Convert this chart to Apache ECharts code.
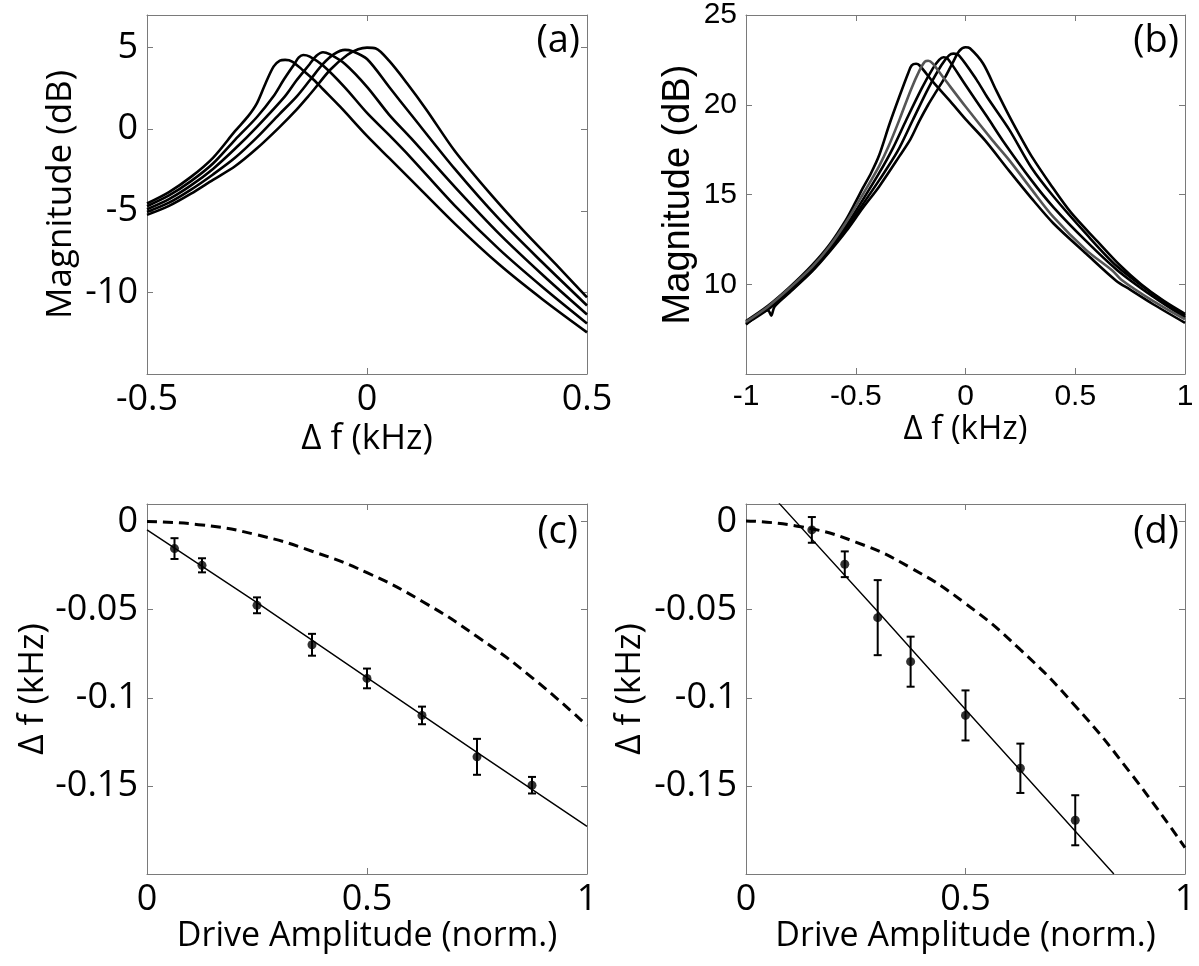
<!DOCTYPE html>
<html>
<head>
<meta charset="utf-8">
<script src="https://cdn.jsdelivr.net/npm/echarts@6/dist/echarts.min.js"></script>
<style>
  html, body { margin: 0; padding: 0; background: #fff; }
  #chart { width: 1199px; height: 966px; }
</style>
</head>
<body>
<div id="chart"></div>
<script>
// (a) five resonance sweeps, [delta f (kHz), magnitude (dB)]
const sweepA1 = [[-0.5,-4.55],[-0.45,-3.85],[-0.4,-2.92],[-0.35,-1.75],[-0.3,-0.12],[-0.27,0.8],[-0.25,1.6],[-0.23,2.85],[-0.212,3.85],[-0.198,4.2],[-0.186,4.25],[-0.17,4.15],[-0.145,3.6],[-0.12,3.0],[-0.1,2.45],[-0.06,1.35],[0,-0.41],[0.05,-1.76],[0.1,-3.1],[0.2,-5.8],[0.3,-8.28],[0.4,-10.45],[0.5,-12.45]];
const sweepA2 = [[-0.5,-4.72],[-0.45,-4.06],[-0.4,-3.18],[-0.35,-2.1],[-0.3,-0.65],[-0.25,0.75],[-0.213,2.0],[-0.19,3.0],[-0.165,4.0],[-0.155,4.4],[-0.145,4.55],[-0.13,4.45],[-0.1,3.9],[-0.05,2.55],[0,1.0],[0.05,-0.35],[0.1,-1.75],[0.2,-4.7],[0.3,-7.35],[0.4,-9.7],[0.5,-11.9]];
const sweepA3 = [[-0.5,-4.9],[-0.45,-4.28],[-0.4,-3.44],[-0.35,-2.43],[-0.3,-1.2],[-0.25,0.15],[-0.187,2.0],[-0.16,3.0],[-0.13,4.0],[-0.115,4.5],[-0.1,4.72],[-0.085,4.6],[-0.05,4.0],[0,2.6],[0.05,0.9],[0.1,-0.55],[0.2,-3.55],[0.3,-6.4],[0.4,-8.95],[0.5,-11.35]];
const sweepA4 = [[-0.5,-5.07],[-0.45,-4.5],[-0.4,-3.7],[-0.35,-2.77],[-0.3,-1.75],[-0.25,-0.5],[-0.2,0.9],[-0.16,2.0],[-0.13,3.0],[-0.1,4.0],[-0.075,4.6],[-0.05,4.86],[-0.035,4.8],[0,4.3],[0.05,2.6],[0.1,0.9],[0.2,-2.45],[0.3,-5.5],[0.4,-8.2],[0.5,-10.8]];
const sweepA5 = [[-0.5,-5.25],[-0.45,-4.7],[-0.4,-3.95],[-0.35,-3.1],[-0.3,-2.27],[-0.25,-1.17],[-0.2,0.1],[-0.16,1.2],[-0.134,2.0],[-0.12,2.45],[-0.083,3.66],[-0.045,4.55],[-0.02,4.9],[0,5.0],[0.02,4.95],[0.05,4.2],[0.09,2.85],[0.135,1.2],[0.2,-1.35],[0.28,-3.95],[0.355,-6.2],[0.43,-8.3],[0.5,-10.3]];

// (b) five sweeps, the second one drawn in grey
const sweepB1 = [[-1,7.95],[-0.9,8.8],[-0.8,9.85],[-0.7,11.05],[-0.62,12.2],[-0.544,13.6],[-0.5,14.6],[-0.468,15.35],[-0.43,16.2],[-0.393,17.2],[-0.347,18.9],[-0.3,20.5],[-0.26,21.8],[-0.245,22.2],[-0.225,22.28],[-0.21,22.2],[-0.15,21.3],[-0.07,20.2],[0,19.2],[0.09,18.0],[0.2,16.3],[0.3,14.8],[0.4,13.4],[0.55,11.7],[0.686,10.2],[0.75,9.7],[0.853,8.9],[1,7.85]];
const sweepB2 = [[-1,7.9],[-0.9,8.75],[-0.8,9.8],[-0.7,10.95],[-0.62,12.1],[-0.544,13.45],[-0.468,15.0],[-0.393,16.6],[-0.35,17.7],[-0.3,19.2],[-0.25,20.8],[-0.21,21.9],[-0.185,22.4],[-0.17,22.45],[-0.15,22.3],[-0.1,21.5],[0,19.9],[0.124,18.0],[0.2,16.9],[0.3,15.3],[0.4,13.75],[0.55,11.9],[0.67,10.75],[0.71,10.25],[0.85,9.1],[1,8.05]];
const sweepB3 = [[-1,7.85],[-0.9,8.65],[-0.8,9.7],[-0.7,10.85],[-0.62,11.95],[-0.544,13.25],[-0.468,14.7],[-0.393,16.2],[-0.33,17.6],[-0.27,19.15],[-0.2,20.9],[-0.15,22.0],[-0.12,22.5],[-0.1,22.65],[-0.08,22.55],[0,21.1],[0.1,19.3],[0.17,18.0],[0.3,15.8],[0.4,14.3],[0.55,12.4],[0.69,10.8],[0.85,9.35],[1,8.15]];
const sweepB4 = [[-1,7.8],[-0.9,8.6],[-0.8,9.6],[-0.7,10.75],[-0.62,11.85],[-0.544,13.1],[-0.468,14.45],[-0.393,15.8],[-0.31,17.4],[-0.24,19.15],[-0.17,20.9],[-0.11,22.2],[-0.075,22.75],[-0.055,22.85],[-0.03,22.75],[0.05,21.4],[0.1,20.4],[0.2,18.6],[0.3,16.5],[0.4,14.9],[0.55,12.8],[0.69,11.0],[0.85,9.5],[1,8.25]];
const sweepB5 = [[-1,7.75],[-0.9,8.55],[-0.885,8.25],[-0.87,8.75],[-0.8,9.55],[-0.7,10.7],[-0.62,11.8],[-0.544,12.95],[-0.468,14.25],[-0.393,15.45],[-0.3,17.15],[-0.25,18.1],[-0.21,19.1],[-0.17,20.0],[-0.13,20.8],[-0.09,21.6],[-0.058,22.35],[-0.028,23.0],[0,23.2],[0.02,23.15],[0.08,22.3],[0.14,20.8],[0.2,19.35],[0.26,18.0],[0.3,17.15],[0.385,15.6],[0.48,14.0],[0.6,12.4],[0.7,11.1],[0.8,10.0],[0.9,9.1],[1,8.35]];

// (c) measured shift vs drive
const driveC = [0.0625, 0.125, 0.25, 0.375, 0.5, 0.625, 0.75, 0.875];
const shiftC = [-0.0153, -0.0248, -0.0475, -0.0699, -0.089, -0.110, -0.1335, -0.1496];
const errC = [0.0059, 0.004, 0.0045, 0.0062, 0.0056, 0.005, 0.0102, 0.0047];
const fitC = [[0,-0.0047],[0.25,-0.046],[0.5,-0.0885],[0.75,-0.131],[1,-0.173]];
const theoryC = [[0,0],[0.125,-0.0019],[0.25,-0.0075],[0.375,-0.0168],[0.5,-0.029],[0.625,-0.0452],[0.75,-0.0652],[0.875,-0.0885],[1,-0.1157]];

// (d)
const driveD = [0.15, 0.225, 0.3, 0.375, 0.5, 0.625, 0.75];
const shiftD = [-0.0047, -0.0242, -0.0545, -0.0795, -0.110, -0.140, -0.1695];
const errD = [0.0073, 0.0073, 0.0213, 0.0142, 0.0142, 0.014, 0.0142];
const fitD = [[0.075,0.0105],[0.3,-0.051],[0.5,-0.1066],[0.838,-0.2]];
const theoryD = [[0,0.0004],[0.125,-0.0029],[0.25,-0.0116],[0.375,-0.0262],[0.5,-0.0465],[0.625,-0.0727],[0.75,-0.1046],[0.875,-0.1424],[1,-0.185]];

const OPEN = "'Open Sans', sans-serif";
const ARIAL = "'Liberation Sans', Arial, sans-serif";
const FRAME = "#7a7a7a";

const grids = [
  { left: 147, top: 15, width: 440, height: 359 },
  { left: 746, top: 15, width: 439, height: 359 },
  { left: 147, top: 504, width: 440, height: 370 },
  { left: 746, top: 504, width: 439, height: 370 },
];

function frameAxis(extra) {
  return Object.assign({
    type: "value",
    axisLine: { show: true, onZero: false, lineStyle: { color: FRAME, width: 1 } },
    axisTick: { show: true, inside: true, length: 6, lineStyle: { color: FRAME } },
    splitLine: { show: false },
  }, extra);
}

function axesFor(p, xr, yr, s) {
  const xs = [
    frameAxis({
      gridIndex: p, position: "bottom", min: xr[0], max: xr[1], interval: xr[2],
      axisLabel: { show: true, margin: 8, fontFamily: s.tickFont, fontSize: s.tickSize, color: "#000" },
      name: s.xName, nameLocation: "middle", nameGap: s.xGap,
      nameTextStyle: { fontFamily: s.xNameFont || OPEN, fontSize: s.xNameSize, color: "#000" },
    }),
    frameAxis({ gridIndex: p, position: "top", min: xr[0], max: xr[1], interval: xr[2], axisLabel: { show: false } }),
  ];
  const ys = [
    frameAxis({
      gridIndex: p, position: "left", min: yr[0], max: yr[1], interval: yr[2],
      axisLabel: { show: true, margin: 9, showMinLabel: false, fontFamily: s.tickFont, fontSize: s.tickSize, color: "#000" },
      name: s.yName, nameLocation: "middle", nameGap: s.yGap, nameRotate: 90,
      nameTextStyle: { fontFamily: s.yNameFont || OPEN, fontSize: s.yNameSize, color: "#000" },
    }),
    frameAxis({ gridIndex: p, position: "right", min: yr[0], max: yr[1], interval: yr[2], axisLabel: { show: false } }),
  ];
  return { xs, ys };
}

const panelA = axesFor(0, [-0.5, 0.5, 0.5], [-15, 7, 5], {
  tickFont: OPEN, tickSize: 36, xName: "\u0394 f (kHz)", xGap: 48, xNameSize: 35,
  yName: "Magnitude (dB)", yGap: 68, yNameSize: 35,
});
const panelB = axesFor(1, [-1, 1, 0.5], [5, 25, 5], {
  tickFont: ARIAL, tickSize: 30, xName: "\u0394 f (kHz)", xGap: 24, xNameSize: 33,
  yName: "Magnitude (dB)", yGap: 48, yNameSize: 38, yNameFont: ARIAL,
});
const panelC = axesFor(2, [0, 1, 0.5], [-0.2, 0.01, 0.05], {
  tickFont: OPEN, tickSize: 36, xName: "Drive Amplitude (norm.)", xGap: 40, xNameSize: 34,
  yName: "\u0394 f (kHz)", yGap: 96, yNameSize: 35,
});
const panelD = axesFor(3, [0, 1, 0.5], [-0.2, 0.01, 0.05], {
  tickFont: OPEN, tickSize: 36, xName: "Drive Amplitude (norm.)", xGap: 40, xNameSize: 34,
  yName: "\u0394 f (kHz)", yGap: 98, yNameSize: 35,
});

const panels = [panelA, panelB, panelC, panelD];
const xAxis = [];
const yAxis = [];
panels.forEach((pa) => { xAxis.push(...pa.xs); yAxis.push(...pa.ys); });

function sweep(p, data, color) {
  return {
    type: "line", xAxisIndex: 2 * p, yAxisIndex: 2 * p, data,
    smooth: 0.3, showSymbol: false, silent: true,
    lineStyle: { color, width: 2.6 },
  };
}

function errorBars(p, xs, ys, es) {
  return {
    type: "custom", xAxisIndex: 2 * p, yAxisIndex: 2 * p, silent: true,
    data: xs.map((x, i) => [x, ys[i], es[i]]),
    encode: { x: 0, y: 1 },
    renderItem: (params, api) => {
      const x = api.value(0), y = api.value(1), e = api.value(2);
      const hi = api.coord([x, y + e]);
      const lo = api.coord([x, y - e]);
      const w = 4;
      const st = { stroke: "#000", lineWidth: 2 };
      return {
        type: "group",
        children: [
          { type: "line", shape: { x1: hi[0], y1: hi[1], x2: lo[0], y2: lo[1] }, style: st },
          { type: "line", shape: { x1: hi[0] - w, y1: hi[1], x2: hi[0] + w, y2: hi[1] }, style: st },
          { type: "line", shape: { x1: lo[0] - w, y1: lo[1], x2: lo[0] + w, y2: lo[1] }, style: st },
        ],
      };
    },
  };
}

function dots(p, xs, ys) {
  return {
    type: "scatter", xAxisIndex: 2 * p, yAxisIndex: 2 * p, silent: true,
    data: xs.map((x, i) => [x, ys[i]]),
    symbol: "circle", symbolSize: 9, itemStyle: { color: "#000" },
  };
}

function fitLine(p, data) {
  return {
    type: "line", xAxisIndex: 2 * p, yAxisIndex: 2 * p, data, clip: true,
    showSymbol: false, silent: true, lineStyle: { color: "#000", width: 1.4 },
  };
}

function theoryLine(p, data) {
  return {
    type: "line", xAxisIndex: 2 * p, yAxisIndex: 2 * p, data, smooth: 0.5,
    showSymbol: false, silent: true, lineStyle: { color: "#000", width: 3, type: [10, 6] },
  };
}

function tag(text, right, top) {
  return {
    type: "text", right, top,
    style: { text, fontFamily: OPEN, fontSize: 38, fill: "#000" },
  };
}

const chart = echarts.init(document.getElementById("chart"), null, { renderer: "canvas" });
chart.setOption({
  animation: false,
  backgroundColor: "#fff",
  grid: grids,
  xAxis,
  yAxis,
  series: [
    sweep(0, sweepA1, "#000"), sweep(0, sweepA2, "#000"), sweep(0, sweepA3, "#000"),
    sweep(0, sweepA4, "#000"), sweep(0, sweepA5, "#000"),
    sweep(1, sweepB1, "#000"), sweep(1, sweepB3, "#000"), sweep(1, sweepB4, "#000"),
    sweep(1, sweepB5, "#000"), sweep(1, sweepB2, "#555"),
    theoryLine(2, theoryC), fitLine(2, fitC), errorBars(2, driveC, shiftC, errC), dots(2, driveC, shiftC),
    theoryLine(3, theoryD), fitLine(3, fitD), errorBars(3, driveD, shiftD, errD), dots(3, driveD, shiftD),
  ],
  graphic: [
    tag("(a)", 1199 - 580, 22),
    tag("(b)", 1199 - 1179, 22),
    tag("(c)", 1199 - 578, 513),
    tag("(d)", 1199 - 1179, 513),
  ],
});
</script>
</body>
</html>
